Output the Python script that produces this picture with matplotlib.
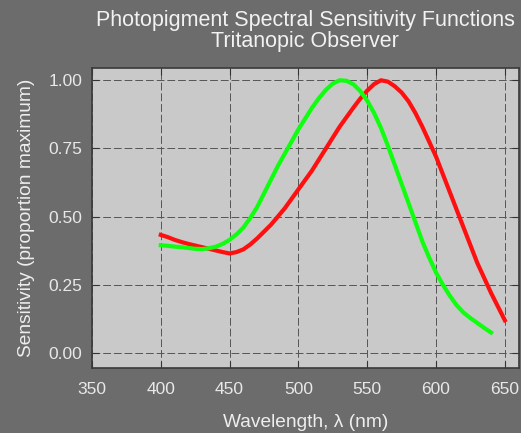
import matplotlib
matplotlib.use("Agg")
import matplotlib.pyplot as plt

# sensitivity curves (proportion of maximum), 5 nm steps
wl_red = list(range(400, 651, 5))
sens_red = [0.433, 0.425, 0.415, 0.407, 0.400, 0.394, 0.388, 0.382, 0.376, 0.370,
            0.365, 0.370, 0.380, 0.398, 0.420, 0.445, 0.470, 0.500, 0.530, 0.565,
            0.600, 0.635, 0.670, 0.710, 0.750, 0.790, 0.830, 0.865, 0.900, 0.933,
            0.962, 0.986, 1.000, 0.995, 0.978, 0.955, 0.923, 0.880, 0.830, 0.775,
            0.720, 0.655, 0.590, 0.525, 0.460, 0.395, 0.330, 0.275, 0.220, 0.170,
            0.120]

wl_green = list(range(400, 641, 5))
sens_green = [0.395, 0.393, 0.390, 0.388, 0.385, 0.382, 0.381, 0.384, 0.390, 0.400,
              0.415, 0.435, 0.460, 0.495, 0.535, 0.585, 0.635, 0.685, 0.730, 0.775,
              0.820, 0.860, 0.900, 0.935, 0.965, 0.988, 1.000, 0.998, 0.985, 0.960,
              0.925, 0.880, 0.825, 0.760, 0.690, 0.620, 0.550, 0.480, 0.410, 0.350,
              0.295, 0.250, 0.210, 0.175, 0.148, 0.128, 0.110, 0.092, 0.075]

xticks = [350, 400, 450, 500, 550, 600, 650]
yticks = [0.0, 0.25, 0.5, 0.75, 1.0]

plt.rcParams['font.family'] = ['Liberation Sans', 'DejaVu Sans']

fig = plt.figure(figsize=(5.21, 4.33), dpi=100, facecolor='#6c6c6c')
ax = fig.add_axes([92 / 521, 65 / 433, 426.6 / 521, 300 / 433])
ax.set_facecolor('#c9c9c9')

ax.plot(wl_red, sens_red, color='#ff1010', lw=3, solid_joinstyle='round')
ax.plot(wl_green, sens_green, color='#10ff10', lw=3, solid_joinstyle='round')

ax.set_xlim(350, 660)
ax.set_ylim(-0.055, 1.045)
ax.set_xticks(xticks)
ax.set_yticks(yticks)
ax.set_yticklabels([f'{v:.2f}' for v in yticks])

ax.grid(True, ls=(0, (8, 3)), color='#555555', lw=0.7)
ax.tick_params(direction='in', length=5, color='#333333', top=True, right=True,
               labelcolor='#e8e8e8', labelsize=12.5, pad=7)
ax.tick_params(axis='x', pad=10)
for s in ax.spines.values():
    s.set_color('#3a3a3a')
    s.set_linewidth(1.2)

ax.set_xlabel('Wavelength, \u03bb (nm)', color='#eeeeee', fontsize=13.8, labelpad=12)
ax.set_ylabel('Sensitivity (proportion maximum)', color='#eeeeee', fontsize=13.8, labelpad=10)
ax.set_title('Photopigment Spectral Sensitivity Functions\nTritanopic Observer',
             color='#f2f2f2', fontsize=15.5, linespacing=1.0, pad=15)

plt.savefig('out.png', dpi=100, facecolor=fig.get_facecolor())
